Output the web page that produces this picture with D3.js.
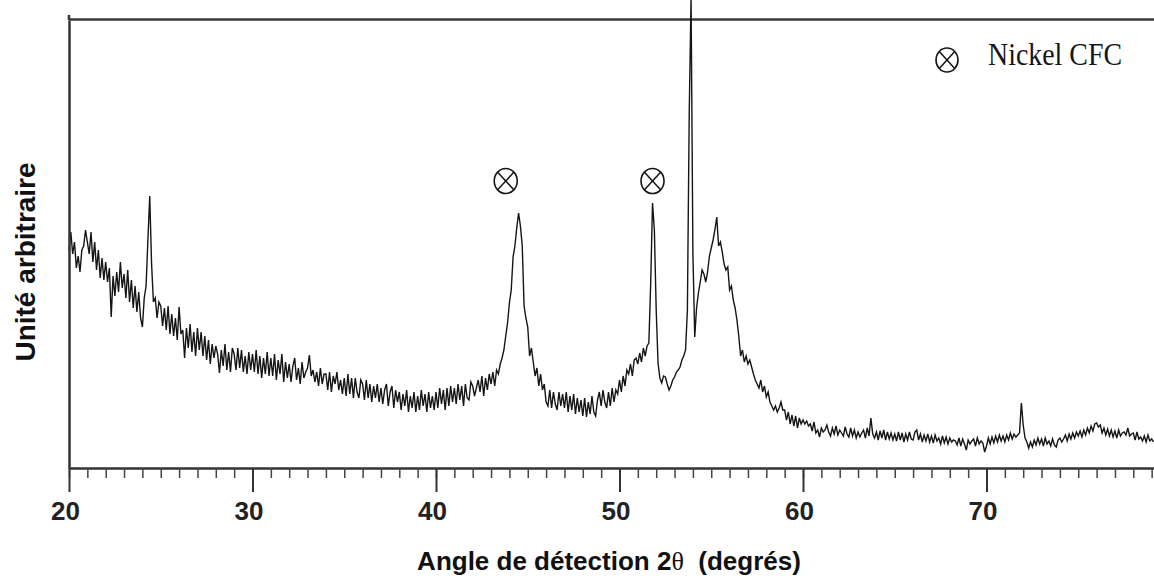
<!DOCTYPE html>
<html><head><meta charset="utf-8">
<script src="https://cdn.jsdelivr.net/npm/d3@7"></script>
<style>html,body{margin:0;padding:0;background:#fff;overflow:hidden}</style>
</head><body>
<svg id="chart" width="1154" height="579"></svg>
<script>
// ---- data ----
const scanStart = 20.0;   // degrees 2θ
const scanStep = 0.1;     // scan step (degrees)
const intensity = [
218,236,214,226,200,212,196,218,222,238,
226,214,236,206,226,198,218,190,210,188,
206,186,200,151,192,172,196,176,206,180,
194,170,198,166,188,160,182,156,176,150,
141,170,182,228,272,204,166,170,150,166,
162,142,160,138,162,134,154,132,150,128,
161,134,138,110,140,120,144,116,136,112,
140,118,136,112,132,108,128,104,124,110,
122,114,95,118,102,124,98,116,96,120,
114,98,120,100,118,96,112,94,116,98,
114,96,118,94,112,90,110,94,116,92,
110,92,114,88,108,94,114,86,106,90,
104,86,102,110,88,100,84,106,90,96,
100,113,92,98,86,96,82,100,84,94,
94,78,96,76,92,84,96,78,88,74,
90,72,94,74,90,70,90,76,70,88,
84,68,88,70,84,66,82,70,84,66,
80,64,78,84,62,76,82,60,78,66,
76,58,74,62,78,56,72,60,76,56,
72,58,78,62,74,56,76,60,72,58,
76,60,80,64,78,58,80,62,82,66,
80,64,84,68,82,62,84,70,68,86,
82,72,80,88,76,92,72,90,78,94,
84,96,82,98,94,104,110,118,132,145,
165,178,211,222,240,255,242,222,162,150,
141,112,120,106,92,100,82,94,78,84,
66,62,78,60,76,64,58,76,62,74,
60,76,56,72,58,74,54,70,56,68,
52,70,51,66,54,72,56,52,68,76,
62,78,66,60,76,62,80,66,78,74,
88,76,92,82,98,94,104,92,108,110,
104,115,106,120,112,122,125,185,265,238,
158,105,90,85,92,91,84,78,82,88,
91,96,98,101,108,112,118,158,355,470,
215,131,160,175,186,198,194,186,196,212,
220,228,238,251,222,226,216,204,198,201,
178,182,168,160,148,132,112,118,106,112,
104,108,101,94,88,84,80,88,76,82,
71,76,66,62,58,62,56,60,66,58,
58,48,56,44,53,42,52,40,50,44,
48,44,47,42,44,37,46,35,38,31,
40,36,38,43,36,32,40,34,42,33,
38,35,32,41,34,31,40,32,38,30,
36,31,35,38,30,40,32,50,34,30,
36,28,37,30,38,28,36,29,35,28,
34,27,36,28,35,26,34,28,36,29,
28,36,38,28,34,26,33,27,34,26,
32,25,33,27,30,24,32,25,31,24,
30,26,28,27,23,30,22,29,24,18,
28,24,27,29,22,30,24,27,25,16,
22,30,24,31,25,32,26,33,27,32,
26,33,28,35,29,34,31,33,35,65,
43,30,26,20,26,21,28,23,30,24,
29,22,30,24,27,22,29,23,21,28,
30,26,29,33,27,34,29,35,30,36,
32,37,31,38,33,40,35,42,37,44,
45,41,43,35,40,33,39,32,38,31,
37,30,38,32,35,36,33,40,32,34,
35,28,36,29,31,27,32,26,33,27,
29,26
];
const xTickLabels = [20, 30, 40, 50, 60, 70];
const nickelPeakAngles = [43.8, 51.8];
const legendLabel = "Nickel CFC";
const yAxisTitle = "Unité arbitraire";
const xAxisTitleParts = ["Angle de détection 2", "θ", "  (degrés)"];

// ---- layout ----
const W = 1154, H = 579;
const plotLeft = 69, plotBottom = 468, plotTop = 20;
const pxPerDeg = 18.35;
const x = d3.scaleLinear().domain([20, 80]).range([plotLeft, plotLeft + 60 * pxPerDeg]);
const y = d3.scaleLinear().domain([0, 448]).range([plotBottom, plotTop]);
const svg = d3.select('#chart');
const ink = '#151515';

const points = intensity.map((v, i) => ({ a: +(scanStart + i * scanStep).toFixed(2), v }));

// top frame line
svg.append('line').attr('x1', plotLeft).attr('x2', W).attr('y1', plotTop - 0.5).attr('y2', plotTop - 0.5)
  .attr('stroke', '#3a3a3a').attr('stroke-width', 2.5);

// spectrum
svg.append('path').datum(points)
  .attr('d', d3.line().x(d => x(d.a)).y(d => y(d.v)))
  .attr('fill', 'none').attr('stroke', ink).attr('stroke-width', 1.4).attr('stroke-linejoin', 'miter');

// minor ticks
const minorAxis = svg.append('g').attr('transform', `translate(0,${plotBottom})`)
  .call(d3.axisBottom(x).tickValues(x.ticks(60)).tickSize(10).tickSizeOuter(0).tickFormat(''));
minorAxis.select('.domain').attr('stroke', '#333').attr('stroke-width', 2.5);
minorAxis.selectAll('.tick line').attr('stroke', '#444').attr('stroke-width', 1.5);

// major ticks + labels
const majorAxis = svg.append('g').attr('transform', `translate(0,${plotBottom})`)
  .call(d3.axisBottom(x).tickValues(xTickLabels).tickSize(24).tickSizeOuter(0).tickFormat(d3.format('d')));
majorAxis.select('.domain').remove();
majorAxis.selectAll('.tick line').attr('stroke', '#333').attr('stroke-width', 2);
majorAxis.selectAll('.tick text')
  .attr('y', 52).attr('dy', 0).attr('dx', -4)
  .attr('fill', '#222')
  .style('font-family', '"Liberation Sans", Arial, sans-serif')
  .style('font-weight', 'bold').style('font-size', '26px');

// left axis
const leftAxis = svg.append('g').attr('transform', `translate(${plotLeft},0)`)
  .call(d3.axisLeft(y).tickValues([]).tickSizeOuter(0));
leftAxis.select('.domain').attr('stroke', '#333').attr('stroke-width', 2.5);
svg.append('line').attr('x1', plotLeft).attr('x2', plotLeft).attr('y1', plotTop - 5).attr('y2', plotTop)
  .attr('stroke', '#333').attr('stroke-width', 2.5);

// peak markers (⊗)
function otimes(g, rx, ry) {
  g.append('ellipse').attr('rx', rx).attr('ry', ry)
    .attr('fill', 'none').attr('stroke', ink).attr('stroke-width', 1.6);
  const k = 0.7;
  g.append('line').attr('x1', -rx * k).attr('y1', -ry * k).attr('x2', rx * k).attr('y2', ry * k)
    .attr('stroke', ink).attr('stroke-width', 1.5);
  g.append('line').attr('x1', -rx * k).attr('y1', ry * k).attr('x2', rx * k).attr('y2', -ry * k)
    .attr('stroke', ink).attr('stroke-width', 1.5);
}
nickelPeakAngles.forEach(a => {
  const g = svg.append('g').attr('transform', `translate(${x(a)},181)`);
  otimes(g, 11.5, 12.5);
});

// legend
const lg = svg.append('g').attr('transform', 'translate(947,60)');
otimes(lg, 11, 12);
svg.append('text').attr('x', 988).attr('y', 65)
  .attr('textLength', 134).attr('lengthAdjust', 'spacingAndGlyphs')
  .style('font-family', '"Liberation Serif", "Times New Roman", serif')
  .style('font-size', '32px').attr('fill', ink).text(legendLabel);

// y axis title
svg.append('text')
  .attr('transform', 'translate(35,262) rotate(-90)')
  .attr('text-anchor', 'middle')
  .style('font-family', '"Liberation Sans", Arial, sans-serif')
  .style('font-weight', 'bold').style('font-size', '28px')
  .attr('fill', '#111').text(yAxisTitle);

// x axis title
const xt = svg.append('text').attr('x', 609).attr('y', 570).attr('text-anchor', 'middle')
  .attr('xml:space', 'preserve')
  .style('font-family', '"Liberation Sans", Arial, sans-serif')
  .style('font-weight', 'bold').style('font-size', '26px').attr('fill', '#111');
xt.append('tspan').text(xAxisTitleParts[0]);
xt.append('tspan').style('font-family', '"Liberation Serif", "Times New Roman", serif')
  .style('font-weight', 'normal').text(xAxisTitleParts[1]);
xt.append('tspan').text(xAxisTitleParts[2]);
</script>
</body></html>
